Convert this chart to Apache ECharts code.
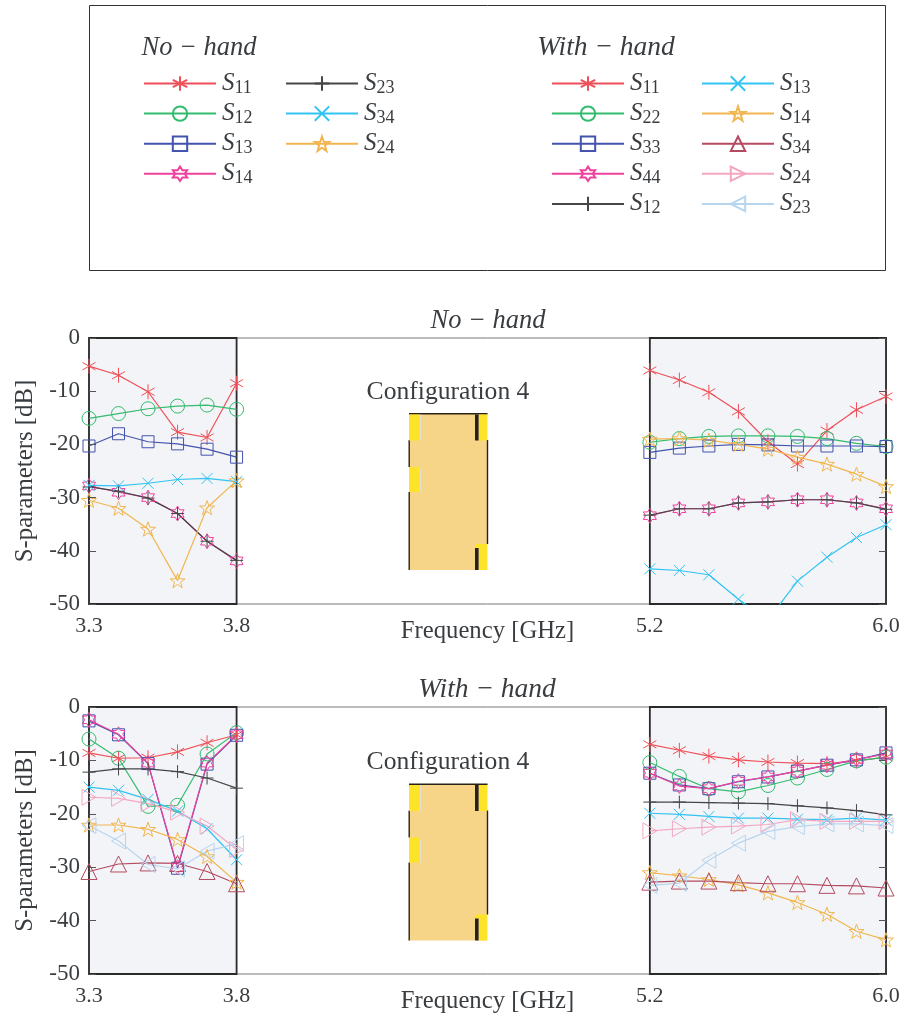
<!DOCTYPE html>
<html>
<head>
<meta charset="utf-8">
<style>html,body{margin:0;padding:0;background:#fff}#c{width:904px;height:1019px}</style>
<script src="https://cdn.jsdelivr.net/npm/echarts@6/dist/echarts.min.js"></script>
</head>
<body>
<div id="c"></div>
<script>
// x positions: first six values in every series belong to the low band, the remaining nine to the high band
const freqLow = [3.3, 3.4, 3.5, 3.6, 3.7, 3.8];
const freqHigh = [5.2, 5.3, 5.4, 5.5, 5.6, 5.7, 5.8, 5.9, 6.0];
const xTicks = [3.3, 3.8, 5.2, 6.0];

// No-hand
const noS11 = [-5.3, -7, -10.1, -17.7, -18.7, -8.5, -6.1, -7.9, -10.2, -13.8, -19.5, -23.7, -17.4, -13.5, -11];
const noS12 = [-15.1, -14.2, -13.3, -12.8, -12.6, -13.4, -19.6, -18.9, -18.5, -18.4, -18.4, -18.5, -18.9, -19.8, -20.4];
const noS13 = [-20.3, -18, -19.5, -19.9, -20.9, -22.4, -21.5, -20.7, -20.3, -20, -20.1, -20.3, -20.3, -20.3, -20.4];
const noS14 = [-27.8, -29, -30, -33, -38.2, -41.9, -33.4, -32.1, -32.1, -31, -30.8, -30.4, -30.4, -31, -32.1];
const noS23 = [-28, -28.8, -30.1, -33, -38.2, -41.8, -33.3, -32.1, -32.1, -31, -30.8, -30.4, -30.4, -31, -32.2];
const noS34 = [-27.7, -27.8, -27.3, -26.6, -26.4, -27, -43.4, -43.7, -44.5, -49.1, -53, -45.7, -41.2, -37.5, -35.1];
const noS24 = [-30.5, -32, -35.9, -45.6, -31.9, -26.8, -19, -18.9, -19.2, -20, -20.9, -22.4, -23.7, -25.6, -27.9];

// With-hand
const wS11 = [-8.6, -9.6, -9.5, -8.4, -6.7, -5.2, -7, -8.1, -9.2, -9.9, -10.3, -10.5, -10.6, -10.1, -9.4];
const wS22 = [-6, -9.6, -18.6, -18.4, -8.8, -4.8, -10.4, -13, -15.3, -15.9, -14.7, -13.3, -11.7, -10.1, -9.4];
const wS33 = [-2.6, -5.2, -10.6, -30.2, -10.7, -5.3, -12.4, -14.6, -15.3, -14, -13.1, -12, -10.9, -9.9, -8.6];
const wS44 = [-2.4, -5.1, -10.5, -30, -10.5, -5.2, -12.4, -14.8, -15.3, -13.9, -13.1, -12, -10.9, -9.8, -8.8];
const wS12 = [-12.2, -11.6, -11.6, -12.1, -13.3, -15.2, -17.8, -17.8, -17.9, -18, -18.1, -18.5, -18.9, -19.4, -20.2];
const wS13 = [-15, -15.6, -17.3, -19.5, -22.8, -28.6, -19.9, -20.1, -20.5, -20.8, -20.8, -21, -21.1, -20.8, -21.2];
const wS14 = [-22.1, -22.1, -22.9, -24.8, -28, -32.8, -31, -31.6, -32.3, -33.3, -34.8, -36.6, -38.8, -42, -43.6];
const wS34 = [-30.8, -29.4, -29.2, -29.3, -30.8, -33.1, -32.8, -32.6, -32.6, -32.9, -33.1, -33.1, -33.4, -33.5, -33.9];
const wS24 = [-16.9, -17.1, -18.1, -19.7, -22.3, -26.7, -23.2, -22.8, -22.5, -22.3, -22, -21.1, -21.4, -21.4, -21.4];
const wS23 = [-22.2, -25.1, -29.5, -30.3, -27, -25.6, -33.4, -33, -28.7, -25.5, -23.3, -22.4, -21.9, -21.9, -22.2];

const FONT = '"Liberation Serif", serif';
const INK = '#3a3d40';

const SYM = {
  asterisk: 'path://M0 -50L0 50M-43.3 -25L43.3 25M-43.3 25L43.3 -25',
  plus: 'path://M0 -50L0 50M-50 0L50 0',
  cross: 'path://M-50 -50L50 50M-50 50L50 -50',
  hexagram: 'path://M0 -50L14.43 -25L43.3 -25L28.87 0L43.3 25L14.43 25L0 50L-14.43 25L-43.3 25L-28.87 0L-43.3 -25L-14.43 -25Z',
  star: 'path://M0 -50L11.76 -16.18L47.55 -15.45L19.02 6.18L29.39 40.45L0 20L-29.39 40.45L-19.02 6.18L-47.55 -15.45L-11.76 -16.18Z',
  triRight: 'path://M0 0L87 50L0 100Z',
  triLeft: 'path://M87 0L0 50L87 100Z',
  circle: 'circle', rect: 'rect', triangle: 'triangle'
};

const C = {
  red: '#ef5058', green: '#33bb6e', blue: '#4453ad', pink: '#f0419d', black: '#444648',
  cyan: '#30c3f3', orange: '#f1b64f', maroon: '#b44a60', rose: '#f4a6c1', sky: '#b8d5ee'
};

function pairs(values) {
  const low = freqLow.map((f, i) => [f, values[i]]);
  const high = freqHigh.map((f, i) => [f, values[i + freqLow.length]]);
  return low.concat([[4.5, '-']], high);
}

function line(prefix, label, values, color, sym, size, gridIndex, extra) {
  return Object.assign({
    type: 'line', name: prefix + ' ' + label, xAxisIndex: gridIndex, yAxisIndex: gridIndex * 2,
    data: pairs(values), symbol: SYM[sym], symbolSize: size, symbolKeepAspect: true, showSymbol: true,
    connectNulls: false, clip: true, silent: true,
    lineStyle: { color: color, width: 1.2 },
    itemStyle: { color: 'rgba(0,0,0,0)', borderColor: color, borderWidth: 1 }
  }, extra || {});
}

const bands = {
  silent: true,
  itemStyle: { color: '#f3f4f7', borderColor: '#2a2a2a', borderWidth: 1.8 },
  label: { show: false },
  data: [
    [{ coord: [3.3, 0] }, { coord: [3.8, -50] }],
    [{ coord: [5.2, 0] }, { coord: [6.0, -50] }]
  ]
};

const series = [
  line('No', 'S11', noS11, C.red, 'asterisk', 15, 0, { markArea: bands }),
  line('No', 'S12', noS12, C.green, 'circle', 14, 0),
  line('No', 'S13', noS13, C.blue, 'rect', 12, 0),
  line('No', 'S14', noS14, C.pink, 'hexagram', 15, 0),
  line('No', 'S23', noS23, C.black, 'plus', 13, 0),
  line('No', 'S34', noS34, C.cyan, 'cross', 11, 0),
  line('No', 'S24', noS24, C.orange, 'star', 15, 0),
  line('With', 'S11', wS11, C.red, 'asterisk', 15, 1, { markArea: bands }),
  line('With', 'S22', wS22, C.green, 'circle', 14, 1),
  line('With', 'S33', wS33, C.blue, 'rect', 12, 1),
  line('With', 'S44', wS44, C.pink, 'hexagram', 15, 1),
  line('With', 'S12', wS12, C.black, 'plus', 13, 1),
  line('With', 'S13', wS13, C.cyan, 'cross', 11, 1),
  line('With', 'S14', wS14, C.orange, 'star', 15, 1),
  line('With', 'S34', wS34, C.maroon, 'triangle', 16, 1),
  line('With', 'S24', wS24, C.rose, 'triRight', 16, 1),
  line('With', 'S23', wS23, C.sky, 'triLeft', 16, 1)
];

function legend(names, left, top) {
  return {
    show: true, left: left, top: top, orient: 'vertical', data: names, padding: 0,
    itemWidth: 72, itemHeight: 18, itemGap: 3.1, selectedMode: false,
    formatter: n => {
      const s = n.split(' ')[1];
      return '{s|S}{sub|' + s.slice(1) + '}';
    },
    textStyle: {
      padding: [0, 0, 0, 1],
      rich: {
        s: { fontFamily: FONT, fontStyle: 'italic', fontSize: 25, color: INK, lineHeight: 26, verticalAlign: 'middle' },
        sub: { fontFamily: FONT, fontSize: 18, color: INK, lineHeight: 26, padding: [9, 0, 0, 0], verticalAlign: 'middle' }
      }
    }
  };
}

function xAxis(gridIndex) {
  return {
    type: 'value', gridIndex: gridIndex, min: 3.3, max: 6.0,
    name: 'Frequency [GHz]', nameLocation: 'middle', nameGap: 15, nameMoveOverlap: false,
    nameTextStyle: { fontFamily: FONT, fontSize: 24.7, color: INK },
    splitLine: { show: false },
    axisLine: { show: false },
    axisTick: { show: false, customValues: xTicks },
    axisLabel: {
      customValues: xTicks, hideOverlap: false, showMinLabel: true, showMaxLabel: true,
      formatter: v => v.toFixed(1), fontFamily: FONT, fontSize: 22, color: INK, margin: 11
    }
  };
}

function yAxes(gridIndex) {
  const common = {
    type: 'value', gridIndex: gridIndex, min: -50, max: 0, interval: 10, z: 5,
    splitLine: { show: false }, axisLine: { show: false },
    axisTick: { show: true, inside: true, length: 7, lineStyle: { color: '#555', width: 1 } }
  };
  return [
    Object.assign({}, common, {
      position: 'left', name: 'S-parameters [dB]', nameLocation: 'middle', nameGap: 51,
      nameTextStyle: { fontFamily: FONT, fontSize: 24.8, color: INK },
      axisLabel: { fontFamily: FONT, fontSize: 23, color: INK, margin: 9 }
    }),
    Object.assign({}, common, { position: 'right', axisLabel: { show: false } })
  ];
}

function rect(x, y, w, h, color, dy) {
  return { type: 'rect', shape: { x: x, y: y + dy, width: w, height: h }, style: { fill: color }, silent: true, z: 1 };
}
function antenna(dy) {
  const Y = '#fde428', K = '#2b2216', G = '#e4e0d2';
  return [
    rect(409, 413.5, 78.5, 156.5, '#f6d488', dy),
    rect(409, 413, 78.5, 1.4, K, dy),
    rect(408.5, 440, 1.4, 27, K, dy),
    rect(408.5, 492, 1.4, 78, K, dy),
    rect(486.8, 440, 1.4, 104, K, dy),
    // left patches
    rect(409, 414.5, 10.5, 26, Y, dy),
    rect(420, 414.5, 1.2, 26, G, dy),
    rect(409, 467, 10.5, 25, Y, dy),
    rect(420, 469, 1.2, 23, G, dy),
    // right patches
    rect(475, 414.5, 3.6, 26, K, dy),
    rect(479, 414.5, 8, 26, Y, dy),
    rect(475, 544, 12, 4, Y, dy),
    rect(475, 548, 3.6, 22, K, dy),
    rect(479, 548, 8, 22, Y, dy)
  ];
}
function text(str, x, y, size, style) {
  return { type: 'text', silent: true, z: 5, x: x, y: y,
    style: { text: str, fill: INK, font: (style || '') + ' ' + size + 'px ' + FONT, textAlign: 'center', textVerticalAlign: 'middle' } };
}

const gridBase = { left: 89, width: 797, show: true, borderColor: '#777', borderWidth: 1, backgroundColor: 'transparent', outerBoundsMode: 'none', containLabel: false };

const option = {
  animation: false,
  backgroundColor: '#fff',
  textStyle: { fontFamily: FONT },
  grid: [
    Object.assign({}, gridBase, { top: 338, height: 266 }),
    Object.assign({}, gridBase, { top: 707, height: 267 })
  ],
  xAxis: [xAxis(0), xAxis(1)],
  yAxis: yAxes(0).concat(yAxes(1)),
  legend: [
    legend(['No S11', 'No S12', 'No S13', 'No S14'], 143, 70),
    legend(['No S23', 'No S34', 'No S24'], 285, 70),
    legend(['With S11', 'With S22', 'With S33', 'With S44', 'With S12'], 551, 70),
    legend(['With S13', 'With S14', 'With S34', 'With S24', 'With S23'], 701, 70)
  ],
  series: series,
  graphic: [
    { type: 'rect', shape: { x: 89.5, y: 5.5, width: 796, height: 265 }, style: { fill: 'none', stroke: '#333', lineWidth: 1 }, silent: true },
    text('No \u2212 hand', 199, 48, 26.5, 'italic'),
    text('With \u2212 hand', 606, 48, 27.5, 'italic'),
    text('No \u2212 hand', 488, 321, 26.5, 'italic'),
    text('With \u2212 hand', 487, 690, 27.5, 'italic'),
    text('Configuration 4', 448, 392, 25.6),
    text('Configuration 4', 448, 762, 25.6)
  ].concat(antenna(0), antenna(370.5))
};

echarts.init(document.getElementById('c'), null, { renderer: 'canvas' }).setOption(option);
</script>
</body>
</html>
